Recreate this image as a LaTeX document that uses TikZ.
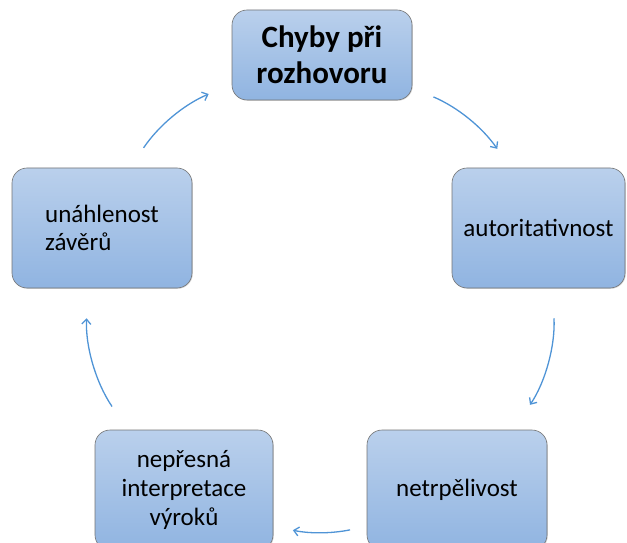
\documentclass[tikz,border=0pt]{standalone}
\usepackage{fontspec}
\setmainfont{Carlito}
\usetikzlibrary{shadows,arrows.meta}
\definecolor{boxtop}{RGB}{186,208,236}
\definecolor{boxbot}{RGB}{144,180,225}
\definecolor{arrblue}{RGB}{79,148,214}
\begin{document}
\begin{tikzpicture}[x=1pt,y=1pt,>={Straight Barb[length=5pt,width=9pt]}]
			\tikzset{box/.style={rounded corners=15pt,draw=black!55,line width=0.6pt,top color=boxtop,bottom color=boxbot,
				minimum width=178pt,minimum height=120pt,align=center,font=\fontsize{25}{29}\selectfont,
				drop shadow={opacity=0.3,shadow xshift=0.8pt,shadow yshift=-0.8pt}},
				cyc/.style={->,draw=arrblue,line width=1.3pt}}
			\useasboundingbox (0,0) rectangle (627,542);
			\clip (0,0) rectangle (627,542);
			\node[box,minimum width=180pt,minimum height=90pt,font=\bfseries\fontsize{31}{36}\selectfont] (chyby) at (322,487) {Chyby při\\rozhovoru};
			\node[box,minimum width=173pt] (autor) at (538.5,314) {autoritativnost};
			\node[box,minimum width=180pt] (netrp) at (457,52) {netrpělivost};
			\node[box] (nepres) at (184,52) {nepřesná\\interpretace\\výroků};
			\node[box,minimum width=180pt,align=left,font=\fontsize{25}{28}\selectfont] (unahl) at (102,314) {unáhlenost\\závěrů};
			\draw[cyc,shorten <=23pt,shorten >=23pt] (chyby.-20) to[bend left=16] (autor.115);
			\draw[cyc,shorten <=30pt,shorten >=30pt] (autor.-77) to[bend left=18.5] (netrp.47.5);
			\draw[cyc,shorten <=17pt,shorten >=20pt] (netrp.202.4) to[bend left=11.7] (nepres.-22.6);
			\draw[cyc,shorten <=28pt,shorten >=30pt] (nepres.133) to[bend left=18.5] (unahl.-103);
			\draw[cyc,shorten <=24pt,shorten >=25pt] (unahl.65.8) to[bend left=16.5] (chyby.198.4);
		\end{tikzpicture}
\end{document}
